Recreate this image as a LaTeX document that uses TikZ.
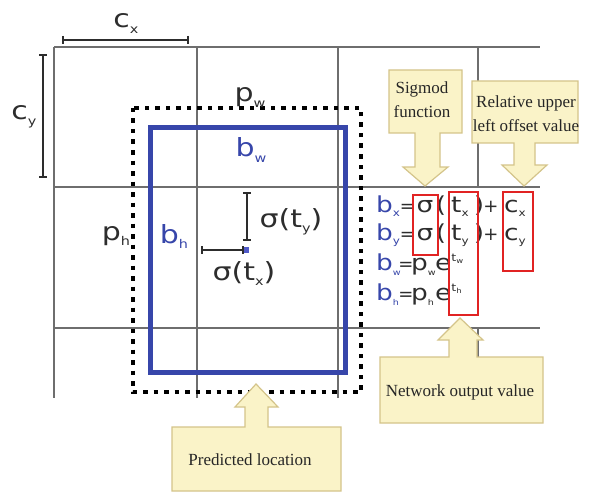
\documentclass[tikz,border=0pt]{standalone}
\usepackage{fontspec}
\usetikzlibrary{calc}
\setmainfont{Liberation Serif}
\newfontfamily\dvw{DejaVu Sans}[FakeStretch=1.2]
\newfontfamily\dvn{DejaVu Sans}
\definecolor{gridc}{RGB}{110,110,110}
\definecolor{bblue}{RGB}{55,70,170}
\definecolor{txt}{RGB}{45,45,45}
\definecolor{redb}{RGB}{225,35,35}
\definecolor{callf}{RGB}{250,243,200}
\definecolor{calld}{RGB}{212,196,138}
\newcommand\lowf[1]{\raisebox{-0.22em}{\fontsize{10}{10}\selectfont #1}}
\newcommand\lows[1]{\raisebox{-0.25em}{\fontsize{8}{8}\selectfont #1}}
\newcommand\lowl[1]{\raisebox{-0.22em}{\fontsize{12}{12}\selectfont #1}}
\newcommand\uppf[1]{\raisebox{0.40em}{\fontsize{10.5}{10.5}\selectfont t\raisebox{-0.2em}{\fontsize{7}{7}\selectfont #1}}}
\tikzset{
  gridline/.style={draw=gridc,line width=1.3pt},
  fm/.style={font=\dvw\fontsize{22}{22}\selectfont, text=txt, inner sep=0pt, anchor=base},
  fmw/.style={fm, anchor=base west},
  op/.style={font=\dvn\fontsize{18}{18}\selectfont, text=txt, inner sep=0pt, anchor=base},
  lab/.style={font=\dvw\fontsize{25}{25}\selectfont, text=txt, inner sep=0pt, anchor=base},
  redbox/.style={draw=redb,line width=1.6pt},
  callout/.style={fill=callf,draw=calld,line width=1.2pt,line join=miter},
  calltext/.style={font=\fontsize{17}{24}\selectfont, text=black!85, align=center, inner sep=0pt},
  brk/.style={draw=txt,line width=1.8pt},
}
\begin{document}
\begin{tikzpicture}[x=1pt,y=-1pt]
\useasboundingbox[fill=white] (0,0) rectangle (593,497);
% grid
\foreach \yy in {47,187,328} \draw[gridline] (54,\yy) -- (540,\yy);
\foreach \xx in {54,197,338} \draw[gridline] (\xx,47) -- (\xx,398);
\draw[gridline] (478,47) -- (478,187);
\draw[gridline] (478,328) -- (478,398);
% cell size brackets
\coordinate (cxa) at (63,40); \coordinate (cxb) at (188,40);
\draw[brk] (cxa) -- (cxb);
\draw[brk] ($(cxa)+(0,-4)$) -- ($(cxa)+(0,4)$);
\draw[brk] ($(cxb)+(0,-4)$) -- ($(cxb)+(0,4)$);
\coordinate (cya) at (43,55); \coordinate (cyb) at (43,177);
\draw[brk] (cya) -- (cyb);
\draw[brk] ($(cya)+(-4,0)$) -- ($(cya)+(4,0)$);
\draw[brk] ($(cyb)+(-4,0)$) -- ($(cyb)+(4,0)$);
\node[lab] (lcx) at (126,28) {c\lowl{x}};
\node[lab] (lcy) at (24,120) {c\lowl{y}};
% boxes
\draw[draw=bblue,line width=5pt] (150,128) rectangle (345,372);
\draw[black,line width=4.5pt,dash pattern=on 4.5pt off 6pt] (133,108) rectangle (361,392);
\node[lab] (lpw) at (250,102) {p\lowl{w}};
\node[lab,text=bblue] (lbw) at (251,157) {b\lowl{w}};
\node[lab] (lph) at (116,240) {p\lowl{h}};
\node[lab,text=bblue] (lbh) at (174,243) {b\lowl{h}};
% offset brackets and centre
\node[fill={rgb,255:red,80;green,90;blue,200},minimum width=6pt,minimum height=6pt,inner sep=0pt] (ctr) at (246,250) {};
\coordinate (tya) at (247,193); \coordinate (tyb) at (247,240);
\draw[brk,line width=1.6pt] (tya) -- (tyb);
\draw[brk,line width=1.6pt] ($(tya)+(-4,0)$) -- ($(tya)+(4,0)$);
\draw[brk,line width=1.6pt] ($(tyb)+(-4,0)$) -- ($(tyb)+(4,0)$);
\coordinate (txa) at (202,250);
\draw[brk,line width=1.6pt] (txa) -- (ctr.west);
\draw[brk,line width=1.6pt] ($(txa)+(0,-4)$) -- ($(txa)+(0,4)$);
\draw[brk,line width=1.6pt] ($(ctr.west)+(0,-4)$) -- ($(ctr.west)+(0,4)$);
\node[lab] (lsy) at (291,227) {σ(t\lowl{y})};
\node[lab] (lsx) at (244,280) {σ(t\lowl{x})};
% formulas
\node[fmw,text=bblue] (bx) at (376,212) {b\lowf{x}};
\node[op] (eqx) at (407.5,212) {=};
\node[fm] (sgx) at (425,212) {σ};
\node[fm] (lpx) at (441,212) {(};
\node[fmw] (tx) at (451,212) {t\lowf{x}};
\node[fm] (rpx) at (479,212) {)};
\node[op] (plx) at (491,212) {+};
\node[fmw] (cx) at (504,212) {c\lowf{x}};
\node[fmw,text=bblue] (by) at (376,240) {b\lowf{y}};
\node[op] (eqy) at (407.5,240) {=};
\node[fm] (sgy) at (425,240) {σ};
\node[fm] (lpy) at (441,240) {(};
\node[fmw] (ty) at (451,240) {t\lowf{y}};
\node[fm] (rpy) at (479,240) {)};
\node[op] (ply) at (491,240) {+};
\node[fmw] (cy) at (504,240) {c\lowf{y}};
\node[fmw,text=bblue] (bw) at (376,270) {b\lows{w}};
\node[op] (eqw) at (406,270) {=};
\node[fmw] (pw) at (411,270) {p\lows{w}};
\node[fmw] (ew) at (435,270) {e\uppf{w}};
\node[fmw,text=bblue] (bh) at (376,300) {b\lows{h}};
\node[op] (eqh) at (406,300) {=};
\node[fmw] (ph) at (411,300) {p\lows{h}};
\node[fmw] (eh) at (435,300) {e\uppf{h}};
% red boxes
\draw[redbox] (413,195) rectangle (438,255);
\draw[redbox] (449,192) rectangle (478,315);
\draw[redbox] (503,192) rectangle (533,271);
% callouts
\draw[callout] (389,70) -- (462,70) -- (462,133) -- (440,133) -- (440,167) -- (448,167) -- (425,186) -- (403,167) -- (415,167) -- (415,133) -- (389,133) -- cycle;
\node[calltext] (sigt) at (422,100) {Sigmod\\function};
\draw[callout] (472,81) -- (578,81) -- (578,143) -- (535,143) -- (535,165) -- (547,165) -- (524,186) -- (502,165) -- (514,165) -- (514,143) -- (472,143) -- cycle;
\node[calltext] (relt) at (526,114) {Relative upper\\left offset value};
\draw[callout] (380,357) -- (449,357) -- (449,340) -- (438,340) -- (460,318) -- (483,340) -- (477,340) -- (477,357) -- (543,357) -- (543,423) -- (380,423) -- cycle;
\node[calltext] (nett) at (460,392) {Network output value};
\draw[callout] (172,427) -- (245,427) -- (245,407) -- (235,407) -- (256,384) -- (278,407) -- (268,407) -- (268,427) -- (341,427) -- (341,491) -- (172,491) -- cycle;
\node[calltext] (predt) at (250,460) {Predicted location};
\end{tikzpicture}
\end{document}
